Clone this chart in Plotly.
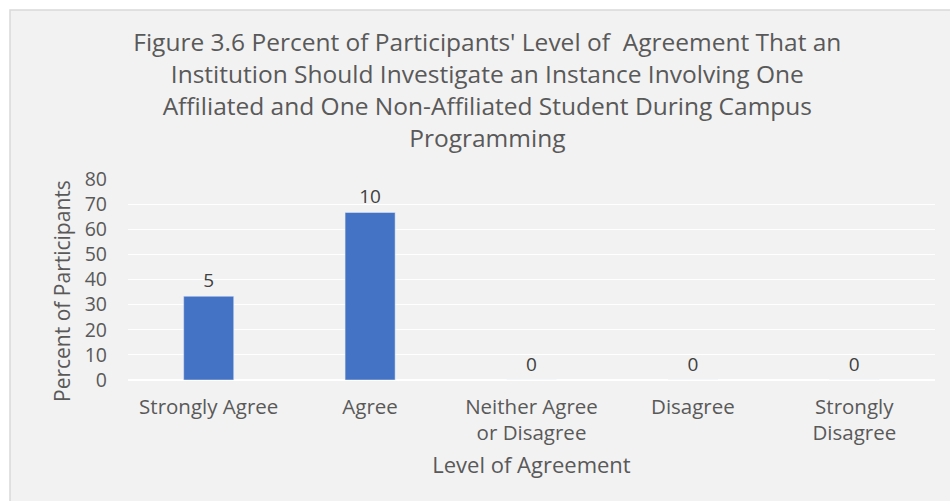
import plotly.graph_objects as go

categories = ["Strongly Agree", "Agree", "Neither Agree<br>or Disagree", "Disagree", "Strongly<br>Disagree"]
percents = [33.33, 66.67, 0, 0, 0]
counts = ["5", "10", "0", "0", "0"]
y_ticks = [0, 10, 20, 30, 40, 50, 60, 70, 80]

title_text = ("Figure 3.6 Percent of Participants' Level of  Agreement That an<br>"
              "Institution Should Investigate an Instance Involving One<br>"
              "Affiliated and One Non-Affiliated Student During Campus<br>"
              "Programming")
y_title = "Percent of Participants"
x_title = "Level of Agreement"

txt = "#595959"
font = "Open Sans, DejaVu Sans, sans-serif"

fig = go.Figure()
fig.add_trace(go.Bar(
    x=categories, y=percents, text=counts, textposition="outside",
    textfont=dict(size=19, color="#404040", family=font),
    marker=dict(color="#4472c4"), width=0.31, cliponaxis=False,
))

L, R, T, B = 128, 15, 179, 121
W, H = 950, 501
pw, ph = W - L - R, H - T - B

def px_x(p):
    return (p - L) / pw

def px_y(p):
    return (H - B - p) / ph

fig.add_shape(type="rect", xref="paper", yref="paper",
              x0=px_x(10), x1=px_x(951), y0=px_y(10), y1=px_y(502),
              fillcolor="#f2f2f2", line=dict(color="#d9d9d9", width=1.5), layer="below")

fig.add_annotation(text=y_title, xref="paper", yref="paper", x=px_x(62), y=px_y(291),
                   xanchor="center", yanchor="middle", textangle=-90, showarrow=False,
                   font=dict(size=21, color=txt, family=font))

fig.update_layout(
    width=W, height=H,
    margin=dict(l=L, r=R, t=T, b=B),
    paper_bgcolor="white", plot_bgcolor="rgba(0,0,0,0)",
    font=dict(family=font, color=txt, size=17),
    title=dict(text=title_text, x=0.513, xanchor="center", y=1 - 51 / 501, yanchor="top",
               font=dict(size=24.5, color=txt, family=font)),
    showlegend=False,
    bargap=0.69,
)
fig.update_xaxes(showgrid=False, showline=False, ticks="",
                 tickfont=dict(size=20.5, color=txt), ticklabelstandoff=12,
                 title=dict(text=x_title, font=dict(size=22, color=txt), standoff=12))
fig.update_yaxes(range=[0, 80], tickvals=y_ticks, showgrid=True, gridcolor="white", gridwidth=1.3,
                 zeroline=True, zerolinecolor="white", zerolinewidth=2, showline=False, ticks="",
                 tickfont=dict(size=19.5, color=txt), ticklabelstandoff=20)

fig.write_html("out.html")
